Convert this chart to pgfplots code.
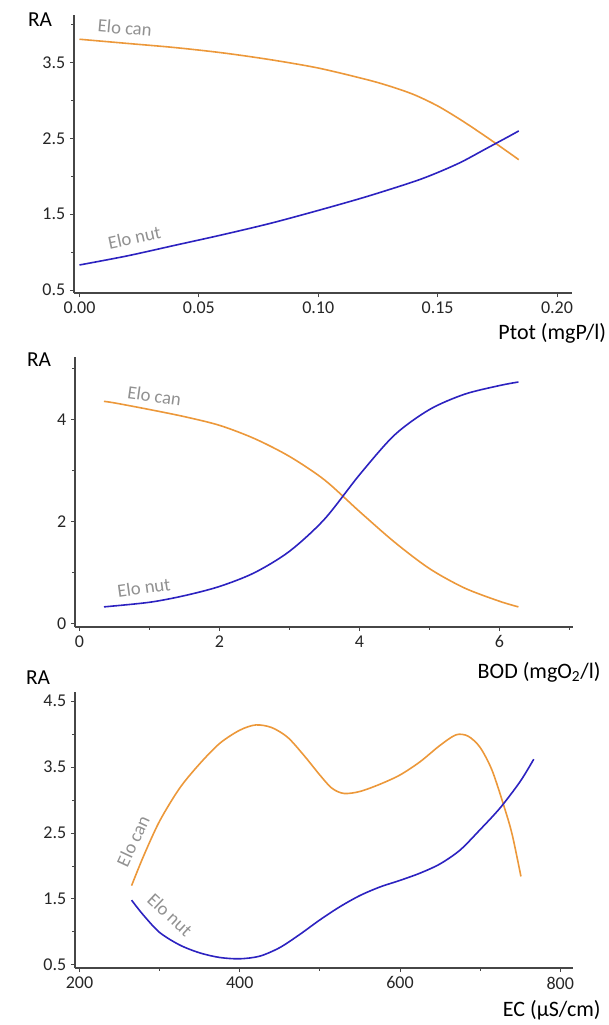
\documentclass[border=0pt]{standalone}
\usepackage{fontspec}
\setmainfont{Carlito}
\usepackage{pgfplots}
\pgfplotsset{compat=1.18}
\definecolor{orangeline}{RGB}{236,152,58}
\definecolor{blueline}{RGB}{44,34,192}
\definecolor{labgray}{RGB}{145,145,145}
\definecolor{axgray}{RGB}{70,70,70}

\pgfplotsset{panel/.style={
  scale only axis, width=373.5pt, anchor=south west,
  axis lines=left, axis line style={-, axgray, line width=0.8pt},
  tick align=outside, major tick length=3pt, minor tick length=2pt,
  tick style={axgray, line width=0.6pt},
  ticklabel style={font=\fontsize{13.5}{15}\selectfont, text=black!85},
  /pgf/number format/assume math mode=true,
  clip=false,
  every axis plot/.append style={line width=1.2pt, smooth},
}}
\newcommand{\elo}{\fontsize{14}{16}\selectfont\color{labgray}}
\tikzset{elolab/.style={inner sep=0pt}}

\begin{document}
\begin{tikzpicture}
\useasboundingbox (0,0) rectangle (456pt,-768.75pt);

% panel 1: Ptot
\begin{axis}[panel, at={(55.5pt,-219.75pt)}, height=208.5pt,
  xmin=-0.0023, xmax=0.2063, ymin=0.46, ymax=4.13,
  xtick={0,0.05,0.1,0.15,0.2}, xticklabels={0.00,0.05,0.10,0.15,0.20},
  ytick={0.5,1.5,2.5,3.5}, yticklabels={0.5,1.5,2.5,3.5},
  minor ytick={1,2,3,4}]
\addplot[orangeline] coordinates {(0,3.81) (0.02,3.755) (0.04,3.70) (0.06,3.63) (0.08,3.54) (0.10,3.43) (0.12,3.28) (0.13,3.19) (0.14,3.08) (0.15,2.93) (0.16,2.74) (0.17,2.53) (0.18,2.31) (0.184,2.22)};
\addplot[blueline] coordinates {(0,0.83) (0.02,0.95) (0.04,1.09) (0.06,1.23) (0.08,1.38) (0.10,1.55) (0.12,1.73) (0.14,1.93) (0.15,2.05) (0.16,2.19) (0.17,2.36) (0.18,2.53) (0.184,2.60)};
\node[elolab, rotate=-5] at (axis cs:0.019,3.96) {\elo Elo can};
\node[elolab, rotate=12] at (axis cs:0.023,1.19) {\elo Elo nut};
\end{axis}

% panel 2: BOD
\begin{axis}[panel, at={(56.25pt,-470.25pt)}, height=202.5pt,
  xmin=-0.064, xmax=7.05, ymin=-0.065, ymax=5.23,
  xtick={0,2,4,6}, minor xtick={1,3,5,7},
  ytick={0,2,4}, minor ytick={1,3,5}]
\addplot[orangeline] coordinates {(0.35,4.36) (0.5,4.33) (1,4.20) (1.5,4.06) (2,3.89) (2.5,3.63) (3,3.28) (3.5,2.82) (4,2.20) (4.5,1.60) (5,1.08) (5.5,0.70) (6,0.44) (6.27,0.33)};
\addplot[blueline] coordinates {(0.35,0.33) (1,0.42) (1.5,0.55) (2,0.73) (2.5,1.00) (3,1.42) (3.5,2.05) (4,2.92) (4.5,3.70) (5,4.20) (5.5,4.50) (6,4.67) (6.27,4.74)};
\node[elolab, rotate=-8] at (axis cs:1.07,4.47) {\elo Elo can};
\node[elolab, rotate=8] at (axis cs:0.92,0.71) {\elo Elo nut};
\end{axis}

% panel 3: EC
\begin{axis}[panel, at={(56.25pt,-726pt)}, height=207pt,
  xmin=194.4, xmax=816, ymin=0.45, ymax=4.64,
  xtick={200,400,600,800}, minor xtick={300,500,700},
  ytick={0.5,1.5,2.5,3.5,4.5}, yticklabels={0.5,1.5,2.5,3.5,4.5},
  minor ytick={1,2,3,4}]
\addplot[orangeline] coordinates {(265,1.70) (280,2.15) (300,2.68) (325,3.18) (350,3.55) (375,3.86) (400,4.06) (420,4.14) (440,4.10) (460,3.95) (480,3.68) (500,3.38) (515,3.18) (530,3.10) (550,3.13) (575,3.24) (600,3.38) (625,3.58) (650,3.83) (670,3.99) (685,3.97) (700,3.80) (715,3.45) (730,2.90) (740,2.48) (751,1.84)};
\addplot[blueline] coordinates {(265,1.48) (280,1.25) (300,0.99) (325,0.80) (350,0.68) (375,0.61) (400,0.59) (425,0.63) (450,0.76) (475,0.96) (500,1.18) (525,1.38) (550,1.55) (575,1.68) (600,1.78) (625,1.89) (650,2.03) (675,2.24) (700,2.55) (725,2.88) (750,3.28) (767,3.62)};
\node[elolab, rotate=65] at (axis cs:266.8,2.38) {\elo Elo can};
\node[elolab, rotate=-43] at (axis cs:313,1.26) {\elo Elo nut};
\end{axis}

\node[font=\fontsize{16}{18}\selectfont] at (30pt,-15pt) {RA};
\node[font=\fontsize{16}{18}\selectfont] at (29.25pt,-270pt) {RA};
\node[font=\fontsize{16}{18}\selectfont] at (28.5pt,-508.5pt) {RA};
\node[anchor=east, font=\fontsize{16.5}{18}\selectfont] at (458pt,-250pt) {Ptot (mgP/l)};
\node[anchor=east, font=\fontsize{16.5}{18}\selectfont] at (454pt,-504pt) {BOD (mgO\textsubscript{2}/l)};
\node[anchor=east, font=\fontsize{16.5}{18}\selectfont] at (454pt,-757.5pt) {EC (µS/cm)};
\end{tikzpicture}
\end{document}
